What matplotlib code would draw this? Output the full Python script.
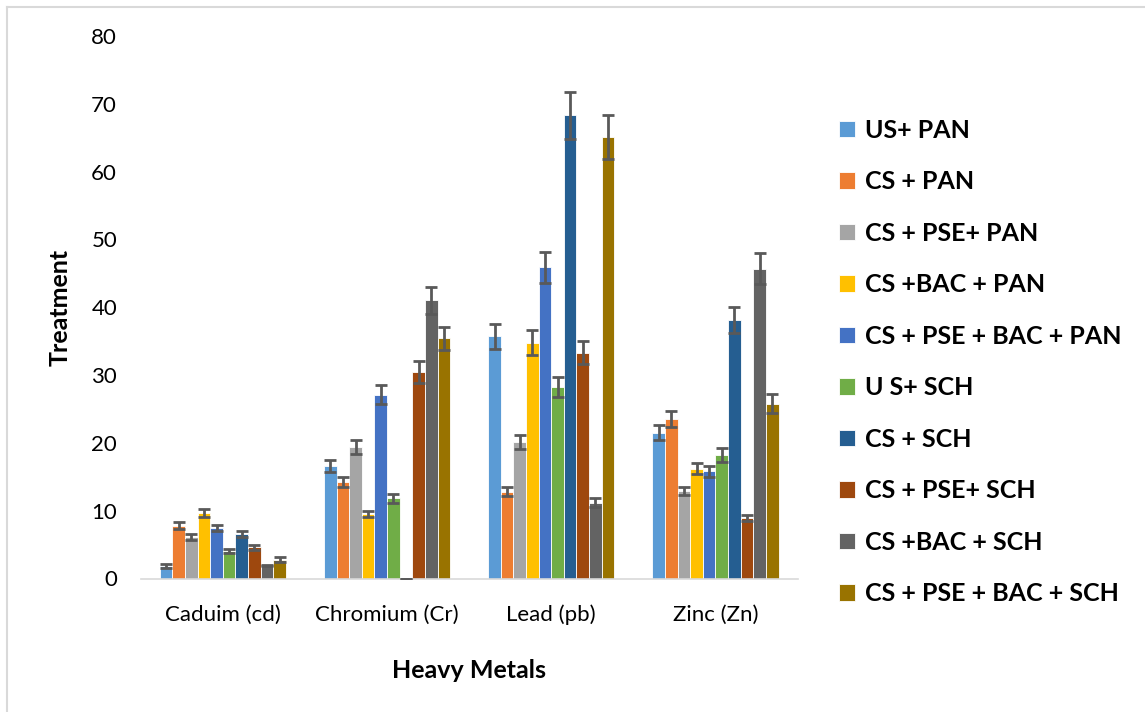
import numpy as np
import matplotlib.pyplot as plt
from matplotlib.lines import Line2D

plt.rcParams['font.family'] = ['Lato', 'DejaVu Sans']

metals = ['Caduim (cd)', 'Chromium (Cr)', 'Lead (pb)', 'Zinc (Zn)']

treatments = ['US+ PAN', 'CS + PAN', 'CS + PSE+ PAN', 'CS +BAC + PAN',
              'CS + PSE + BAC + PAN', 'U S+ SCH', 'CS + SCH', 'CS + PSE+ SCH',
              'CS +BAC + SCH', 'CS + PSE + BAC + SCH']

# values per treatment, order: Cd, Cr, Pb, Zn
us_pan        = [1.9, 16.6, 35.7, 21.5]
cs_pan        = [7.8, 14.2, 12.8, 23.5]
cs_pse_pan    = [6.1, 19.4, 20.1, 12.9]
cs_bac_pan    = [9.7, 9.5, 34.8, 16.2]
cs_pse_bac_pan = [7.4, 27.1, 45.9, 15.8]
us_sch        = [4.0, 11.8, 28.2, 18.2]
cs_sch        = [6.5, 0.0, 68.3, 38.1]
cs_pse_sch    = [4.6, 30.5, 33.3, 8.9]
cs_bac_sch    = [1.9, 41.0, 11.2, 45.7]
cs_pse_bac_sch = [2.8, 35.4, 65.1, 25.8]

# error bars (same order)
err_us_pan        = [0.3, 0.9, 1.8, 1.1]
err_cs_pan        = [0.5, 0.7, 0.7, 1.2]
err_cs_pse_pan    = [0.45, 1.0, 1.05, 0.65]
err_cs_bac_pan    = [0.6, 0.5, 1.8, 0.85]
err_cs_pse_bac_pan = [0.45, 1.4, 2.3, 0.8]
err_us_sch        = [0.3, 0.65, 1.45, 1.0]
err_cs_sch        = [0.45, 0.0, 3.5, 1.95]
err_cs_pse_sch    = [0.35, 1.6, 1.7, 0.45]
err_cs_bac_sch    = [0.1, 2.0, 0.65, 2.3]
err_cs_pse_bac_sch = [0.3, 1.75, 3.3, 1.4]

values = [us_pan, cs_pan, cs_pse_pan, cs_bac_pan, cs_pse_bac_pan,
          us_sch, cs_sch, cs_pse_sch, cs_bac_sch, cs_pse_bac_sch]
errors = [err_us_pan, err_cs_pan, err_cs_pse_pan, err_cs_bac_pan, err_cs_pse_bac_pan,
          err_us_sch, err_cs_sch, err_cs_pse_sch, err_cs_bac_sch, err_cs_pse_bac_sch]

colors = ['#5B9BD5', '#ED7D31', '#A5A5A5', '#FFC000', '#4472C4',
          '#70AD47', '#255E91', '#9E480E', '#636363', '#997300']

fig = plt.figure(figsize=(11.45, 7.12), dpi=100)
ax = fig.add_axes([0.1229, 0.1875, 0.5737, 0.7619])

x = np.arange(len(metals))
w = 0.0768
n = len(treatments)
handles = []
for i in range(n):
    pos = x + (i - (n - 1) / 2) * w
    b = ax.bar(pos, values[i], w, color=colors[i], edgecolor='white', linewidth=0.6,
               label=treatments[i], zorder=2)
    ax.errorbar(pos, values[i], yerr=errors[i], fmt='none', ecolor='#595959',
                elinewidth=2, capsize=4, capthick=2, zorder=3)
    handles.append(b)

ax.set_xlim(-0.5, 3.5)
ax.set_ylim(0, 80)
ax.set_yticks(range(0, 81, 10))
ax.set_xticks(x)
ax.set_xticklabels(metals)
ax.tick_params(axis='y', length=0, pad=17, labelsize=16)
ax.tick_params(axis='x', length=0, pad=19, labelsize=16)

for s in ['top', 'right', 'left']:
    ax.spines[s].set_visible(False)
ax.spines['bottom'].set_color('#D9D9D9')
ax.spines['bottom'].set_linewidth(1.2)

ax.set_xlabel('Heavy Metals', fontsize=18, fontweight='bold', labelpad=24)
ax.set_ylabel('Treatment', fontsize=18, fontweight='bold')
ax.yaxis.set_label_coords(-0.1046, 0.5)

fig.legend(handles, treatments, loc='center left', bbox_to_anchor=(0.713, 0.4916),
           frameon=False, prop={'weight': 'bold', 'size': 18},
           handlelength=0.64, handleheight=0.64, handletextpad=0.4,
           labelspacing=1.14)

# light chart border (top and left visible)
fig.add_artist(Line2D([6.5 / 1145, 6.5 / 1145], [0, 1 - 6.5 / 712],
                      transform=fig.transFigure, color='#D9D9D9', lw=1.5))
fig.add_artist(Line2D([6.5 / 1145, 1], [1 - 6.5 / 712, 1 - 6.5 / 712],
                      transform=fig.transFigure, color='#D9D9D9', lw=1.5))

fig.savefig('out.png', dpi=100)
